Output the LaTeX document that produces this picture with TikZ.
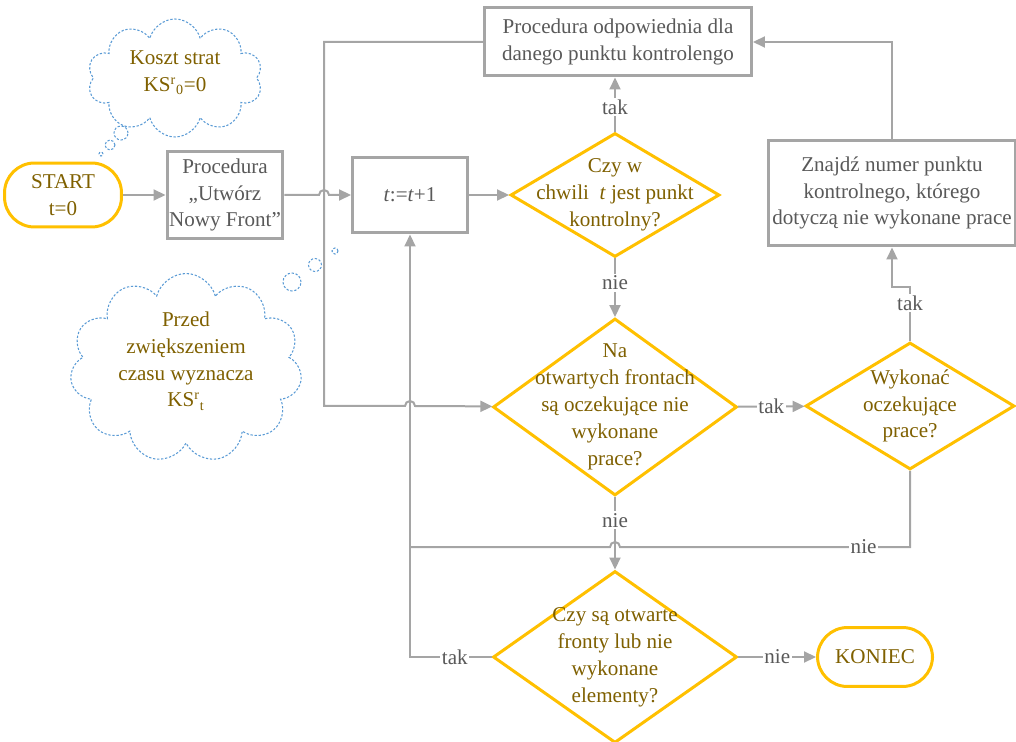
\documentclass[tikz,border=0pt]{standalone}
\usepackage{fontspec}
\setmainfont{Liberation Serif}
\usetikzlibrary{shapes.geometric,shapes.symbols,arrows.meta}
\definecolor{zolty}{RGB}{255,192,0}
\definecolor{zlotytekst}{RGB}{127,96,0}
\definecolor{szary}{RGB}{165,165,165}
\definecolor{szarytekst}{RGB}{89,89,89}
\definecolor{chmura}{RGB}{91,155,213}

\begin{document}
\begin{tikzpicture}[x=0.02cm, y=0.02cm]
\tikzstyle{every node}+=[font=\fontsize{12}{15.3}\selectfont, align=center, inner sep=0pt]
\tikzstyle{krok}=[draw=szary, line width=0.06cm, fill=white, text=szarytekst]
\tikzstyle{pytanie}=[diamond, draw=zolty, line width=0.06cm, fill=white]
\tikzstyle{tekstpyt}=[text=zlotytekst]
\tikzstyle{kraniec}=[draw=zolty, line width=0.06cm, rounded corners=0.6cm, text=zlotytekst]
\tikzstyle{strz}=[draw=szary, line width=0.04cm, -{Triangle[length=0.24cm,width=0.22cm]}]
\tikzstyle{linia}=[draw=szary, line width=0.04cm]
\tikzstyle{etyk}=[fill=white, text=szarytekst, inner sep=1pt]
\tikzstyle{chm}=[draw=chmura, line width=0.6pt, dash pattern=on 1.3pt off 1pt]
\useasboundingbox (0,0) rectangle (1016,-742);
\node[cloud, cloud puffs=10, chm, minimum width=3.5cm, minimum height=2.36cm] (chmura1) at (175,-78) {};
\node[text=zlotytekst] (chmura1t) at (175,-73) {Koszt strat\\KS\textsuperscript{r}\textsubscript{0}=0};
\draw[chm] (121,-133) circle (7);
\draw[chm] (110,-145) circle (5);
\draw[chm] (101,-154) circle (2);
\node[cloud, cloud puffs=11, chm, minimum width=4.64cm, minimum height=3.78cm] (chmura2) at (186,-368) {};
\node[text=zlotytekst] (chmura2t) at (186,-361) {Przed\\zwiększeniem\\czasu wyznacza\\KS\textsuperscript{r}\textsubscript{t}};
\draw[chm] (292,-282) circle (9);
\draw[chm] (315,-265) circle (6.5);
\draw[chm] (335,-251) circle (3);
\node[kraniec, minimum width=2.34cm, minimum height=1.28cm] (start) at (63,-195) {START\\t=0};
\node[krok, minimum width=2.32cm, minimum height=1.74cm] (utworz) at (225,-195) {Procedura\\„Utwórz\\Nowy Front”};
\node[krok, minimum width=2.3cm, minimum height=1.52cm] (tplus) at (410,-195) {\textit{t}:=\textit{t}+1};
\node[pytanie, minimum width=4.18cm, minimum height=2.48cm] (czyw) at (615,-195) {};
\node[tekstpyt] (czywt) at (czyw) {Czy w\\chwili \ \textit{t} jest punkt\\kontrolny?};
\node[krok, minimum width=5.34cm, minimum height=1.36cm] (odpow) at (618,-42) {Procedura odpowiednia dla\\danego punktu kontrolengo};
\node[pytanie, minimum width=4.88cm, minimum height=3.54cm] (oczek) at (615,-407) {};
\node[tekstpyt] (oczekt) at (oczek) {Na\\otwartych frontach\\są oczekujące nie\\wykonane\\prace?};
\node[pytanie, minimum width=4.18cm, minimum height=2.54cm] (wykon) at (910,-406) {};
\node[tekstpyt] (wykont) at (wykon) {Wykonać\\oczekujące\\prace?};
\node[krok, minimum width=4.94cm, minimum height=2.12cm] (znajdz) at (892,-193) {Znajdź numer punktu\\kontrolnego, którego\\dotyczą nie wykonane prace};
\node[pytanie, minimum width=4.88cm, minimum height=3.44cm] (otwarte) at (615,-657) {};
\node[tekstpyt] (otwartet) at (otwarte) {Czy są otwarte\\fronty lub nie\\wykonane\\elementy?};
\node[kraniec, minimum width=2.3cm, minimum height=1.18cm] (koniec) at (875,-657) {KONIEC};
\coordinate (skok1) at (324,-195);
\coordinate (skok2) at (410,-406);
\coordinate (skok3) at (615,-547);
\coordinate (lewy) at (324,-406);
\coordinate (zalom) at (910,-287);
\coordinate (dol) at (410,-657);
\coordinate (laczenie) at (410,-547);
\draw[strz] (start) -- (utworz);
\draw[strz] (utworz) -- ([xshift=-0.1cm]skok1) arc (180:0:5) -- (tplus);
\draw[strz] (tplus) -- (czyw);
\draw[strz] (czyw.north) -- node[etyk, pos=0.45]{tak} (odpow.south -| czyw.north);
\draw[strz] (czyw) -- node[etyk, pos=0.42]{nie} (oczek);
\draw[strz] (odpow.west) -| (lewy) -- ([xshift=-0.1cm]skok2) arc (180:0:5) -- (oczek);
\draw[strz] (oczek) -- node[etyk]{tak} (wykon);
\draw[strz] (wykon.north) -- node[etyk, pos=0.7]{tak} (zalom) -| (znajdz.south);
\draw[strz] (znajdz.north) |- (odpow.east);
\draw[strz] (oczek) -- node[etyk, pos=0.32]{nie} (otwarte);
\draw[linia] (wykon.south) |- node[etyk, pos=0.58]{nie} ([xshift=0.1cm]skok3) arc (0:180:5) -- (laczenie);
\draw[strz] (otwarte) -- node[etyk, pos=0.45]{tak} (dol) -- (tplus);
\draw[strz] (otwarte) -- node[etyk]{nie} (koniec);
\end{tikzpicture}
\end{document}
